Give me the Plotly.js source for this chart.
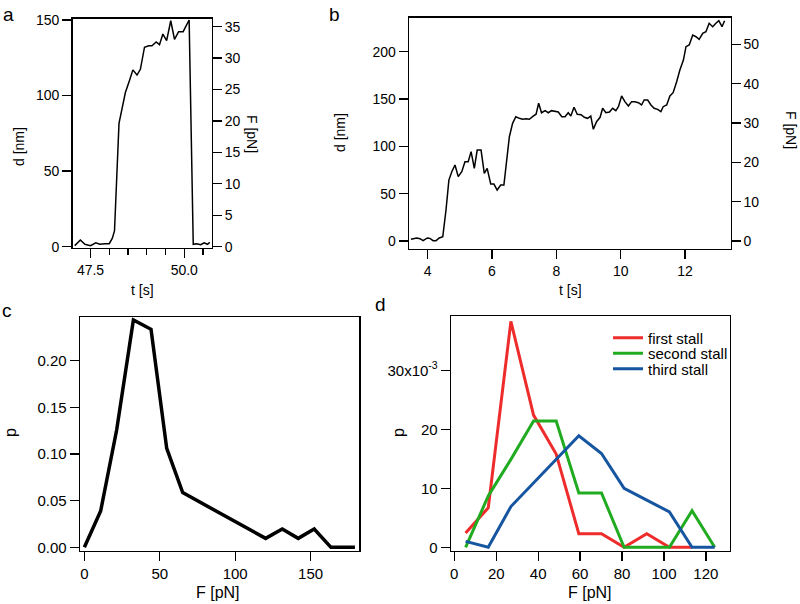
<!DOCTYPE html>
<html>
<head>
<meta charset="utf-8">
<script src="https://cdn.plot.ly/plotly-3.0.1.min.js"></script>
<style>html,body{margin:0;padding:0;background:#fff;}#chart{width:800px;height:604px;}</style>
</head>
<body>
<div id="chart"></div>
<script>
// Panel a: trace d(t)
var aT = [47.08,47.23,47.35,47.50,47.64,47.75,47.88,48.00,48.08,48.14,48.26,48.33,48.43,48.54,48.63,48.74,48.83,48.94,49.05,49.14,49.25,49.34,49.43,49.53,49.64,49.74,49.85,49.97,50.13,50.24,50.33,50.44,50.53,50.62,50.68];
var aD = [0.7,4.4,1.6,0.7,2.6,1.6,2.0,2.0,5.5,10.4,81.6,90.4,102,110,117,113.6,117.4,132,133,133,135.5,133.7,140.7,136.3,149.5,137.2,142.3,142.3,150,1.6,2.0,1.3,2.6,1.6,2.9];

// Panel b: trace d(t)
var bT = [3.48,3.66,3.76,3.86,3.99,4.07,4.17,4.26,4.36,4.47,4.57,4.66,4.75,4.85,4.95,5.06,5.16,5.26,5.35,5.45,5.54,5.66,5.76,5.85,5.96,6.06,6.16,6.27,6.37,6.46,6.54,6.64,6.74,6.85,6.95,7.06,7.16,7.28,7.37,7.45,7.54,7.65,7.75,7.85,7.96,8.06,8.17,8.27,8.37,8.45,8.55,8.65,8.77,8.87,8.97,9.07,9.15,9.25,9.36,9.44,9.54,9.65,9.75,9.85,9.93,10.03,10.13,10.24,10.34,10.44,10.55,10.65,10.73,10.84,10.94,11.04,11.15,11.25,11.32,11.43,11.53,11.63,11.74,11.84,11.95,12.03,12.13,12.24,12.34,12.44,12.55,12.65,12.75,12.86,12.96,13.05,13.15,13.23];
var bD = [1.8,3.2,2.5,0.4,3.2,2.8,0.4,0.4,3.2,4.6,32.8,64.4,73.2,80.3,68,73.2,83.8,83.8,94.4,76.8,96.1,96.1,71.5,76.8,60.2,60.2,53.9,59.2,59.2,85.6,110.2,124.3,131.3,129.6,128.6,129.2,128.6,132,134,145.5,135.5,137.7,135.5,137.7,136.6,136.3,131.3,131.3,135.5,132,141.3,133.8,133.4,130.7,129.6,132,118,126,130.7,140.2,135.5,136.3,140.2,137.7,141.9,153.2,147.2,142.6,147.2,147.2,146.1,143.7,149,149,143.7,140.2,139.1,136.6,141.9,143.7,153.2,156.7,168.3,180.7,191.2,205.3,207.1,217.6,215.8,213.1,219.4,221.1,230,226.4,230,232.7,226.4,232.7];

// Panel c: force histogram
var cF = [0,10.8,21.4,32.5,44.2,54.6,65.2,120.2,131.2,141.8,152.4,163.5,179.4];
var cP = [0,0.0389,0.1257,0.2436,0.2336,0.106,0.0586,0.0096,0.0196,0.0096,0.0196,0,0];

// Panel d: stall force histograms
var dF = [5.4,16.2,27.0,37.8,48.6,59.4,70.2,81.0,91.8,102.6,113.4,124.2];
var dFirst  = [0.0024,0.0067,0.0383,0.0224,0.0158,0.0023,0.0023,0,0.0023,0,0];
var dSecond = [0,0.0087,0.0149,0.0214,0.0214,0.0092,0.0092,0,0,0,0.0062,0];
var dThird  = [0.0010,0,0.0069,0.0109,0.0149,0.0189,0.0159,0.0100,0.0080,0.0060,0,0];
var seriesNames = ['first stall','second stall','third stall'];
var dYTickVals = [0,0.01,0.02,0.03];
var dYTickText = ['0','10','20','30x10<sup>-3</sup>'];

var FONT = 'Liberation Sans, Arial, Helvetica, sans-serif';
var W = 800, H = 604;
function px(x){return x/W;}
function py(y){return 1 - y/H;}

function ax(extra, fs){
  var o = {showline:true, mirror:true, linecolor:'#000', linewidth:1.3,
    ticks:'outside', ticklen:9, tickwidth:1.3, tickcolor:'#000',
    showgrid:false, zeroline:false, fixedrange:true,
    tickfont:{family:FONT, size:fs, color:'#000'}};
  for (var k in extra) o[k] = extra[k];
  return o;
}

var data = [
  {x:aT, y:aD, xaxis:'x', yaxis:'y', mode:'lines', line:{color:'#000', width:1.5}, showlegend:false, hoverinfo:'skip'},
  {x:[], y:[], xaxis:'x', yaxis:'y2', mode:'lines', showlegend:false},
  {x:bT, y:bD, xaxis:'x2', yaxis:'y3', mode:'lines', line:{color:'#000', width:1.5}, showlegend:false, hoverinfo:'skip'},
  {x:[], y:[], xaxis:'x2', yaxis:'y4', mode:'lines', showlegend:false},
  {x:cF, y:cP, xaxis:'x3', yaxis:'y5', mode:'lines', line:{color:'#000', width:3.5}, showlegend:false, hoverinfo:'skip'},
  {x:dF.slice(0,dFirst.length), y:dFirst, xaxis:'x4', yaxis:'y6', mode:'lines', name:seriesNames[0], legend:'legend', line:{color:'#ee2c2c', width:3}},
  {x:dF, y:dSecond, xaxis:'x4', yaxis:'y6', mode:'lines', name:seriesNames[1], legend:'legend2', line:{color:'#20ab20', width:3}},
  {x:dF, y:dThird, xaxis:'x4', yaxis:'y6', mode:'lines', name:seriesNames[2], legend:'legend3', line:{color:'#16559f', width:3}}
];

function leg(yc){
  return {x:px(608), y:py(yc), xanchor:'left', yanchor:'middle', bgcolor:'rgba(0,0,0,0)', borderwidth:0,
    font:{family:FONT, size:15, color:'#000'}, itemwidth:30};
}

var layout = {
  width:W, height:H, margin:{l:0,r:0,t:0,b:0},
  paper_bgcolor:'#fff', plot_bgcolor:'#fff',
  font:{family:FONT, size:14, color:'#000'},
  showlegend:true,
  legend: leg(338),
  legend2: leg(353.5),
  legend3: leg(369),
  // panel a
  xaxis: ax({domain:[px(72.5), px(212)], anchor:'y', range:[47.02,50.74], tick0:47.5, dtick:2.5, tickformat:'.1f',
    minor:{dtick:0.5, ticklen:6, ticks:'outside', tickcolor:'#000', tickwidth:1.3}}, 14),
  yaxis: ax({domain:[py(248), py(18.5)], anchor:'x', range:[-0.86,151], dtick:50}, 14),
  yaxis2: ax({overlaying:'y', side:'right', anchor:'x', range:[-0.21,36.3], dtick:5, showline:false, mirror:false}, 14),
  // panel b
  xaxis2: ax({domain:[px(409), px(730.7)], anchor:'y3', range:[3.42,13.42], dtick:2, tick0:0}, 14),
  yaxis3: ax({domain:[py(248.5), py(17.7)], anchor:'x2', range:[-7.9,235.9], dtick:50}, 14),
  yaxis4: ax({overlaying:'y3', side:'right', anchor:'x2', range:[-1.9,56.76], dtick:10, showline:false, mirror:false}, 14),
  // panel c
  xaxis3: ax({domain:[px(80), px(359.3)], anchor:'y5', range:[-2.9,182.3], dtick:50, tick0:0}, 15),
  yaxis5: ax({domain:[py(550.7), py(317.3)], anchor:'x3', range:[-0.0036,0.2464], dtick:0.05, tickformat:'.2f'}, 15),
  // panel d
  xaxis4: ax({domain:[px(451), px(730)], anchor:'y6', range:[-1.57,131.5], dtick:20, tick0:0}, 15),
  yaxis6: ax({domain:[py(550.7), py(316)], anchor:'x4', range:[-0.00058,0.0392], tickmode:'array', tickvals:dYTickVals, ticktext:dYTickText}, 15),
  annotations: []
};

function ann(text, x, y, size, angle){
  return {text:text, xref:'paper', yref:'paper', x:px(x), y:py(y), xanchor:'center', yanchor:'middle',
    showarrow:false, textangle:angle||0, font:{family:FONT, size:size, color:'#000'}};
}
layout.annotations.push(ann('a', 8, 14, 19));
layout.annotations.push(ann('b', 334, 14, 19));
layout.annotations.push(ann('c', 7, 310, 19));
layout.annotations.push(ann('d', 380, 304, 19));
layout.annotations.push(ann('d [nm]', 19, 147, 14, -90));
layout.annotations.push(ann('F [pN]', 252, 134, 14, 90));
layout.annotations.push(ann('t [s]', 142, 290, 14));
layout.annotations.push(ann('d [nm]', 340, 133, 14, -90));
layout.annotations.push(ann('F [pN]', 791, 130, 14, 90));
layout.annotations.push(ann('t [s]', 570, 290, 14));
layout.annotations.push(ann('p', 10, 433, 16, -90));
layout.annotations.push(ann('F [pN]', 218, 592, 16));
layout.annotations.push(ann('p', 398, 433, 16, -90));
layout.annotations.push(ann('F [pN]', 590, 592, 16));

Plotly.newPlot('chart', data, layout, {staticPlot:true, displayModeBar:false});
</script>
</body>
</html>
